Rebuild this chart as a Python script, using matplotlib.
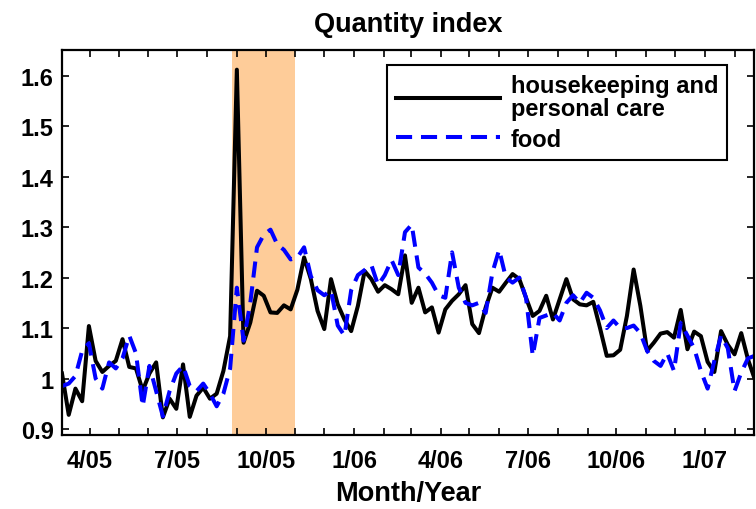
import numpy as np
import pandas as pd
import matplotlib
matplotlib.use('Agg')
import matplotlib.pyplot as plt
import matplotlib.dates as mdates
from matplotlib.ticker import FixedLocator, FuncFormatter

plt.rcParams['font.family'] = ['Liberation Sans', 'DejaVu Sans']
plt.rcParams['font.weight'] = 'bold'

weeks = pd.date_range('2005-03-03', periods=104, freq='7D')

housekeeping = [
    1.01, 0.928, 0.98, 0.955, 1.104, 1.035, 1.013, 1.025, 1.035, 1.078,
    1.023, 1.02, 0.976, 1.01, 1.032, 0.923, 0.96, 0.94, 1.028, 0.924,
    0.966, 0.982, 0.96, 0.97, 1.015, 1.084, 1.612, 1.071, 1.111, 1.174,
    1.164, 1.131, 1.13, 1.145, 1.137, 1.176, 1.24, 1.197, 1.134, 1.098,
    1.197, 1.147, 1.117, 1.094, 1.144, 1.213, 1.197, 1.172, 1.185, 1.177,
    1.167, 1.244, 1.15, 1.18, 1.131, 1.141, 1.091, 1.137, 1.154, 1.167,
    1.185, 1.108, 1.09, 1.141, 1.18, 1.172, 1.19, 1.207, 1.197, 1.16,
    1.124, 1.134, 1.164, 1.117, 1.157, 1.197, 1.157, 1.147, 1.145, 1.152,
    1.1, 1.045, 1.046, 1.057, 1.124, 1.216, 1.144, 1.055, 1.071, 1.089,
    1.092, 1.081, 1.136, 1.058, 1.093, 1.084, 1.033, 1.013, 1.094, 1.067,
    1.048, 1.09, 1.038, 0.999,
]

food = [
    0.985, 0.99, 1.005, 1.055, 1.07, 1.0, 0.98, 1.032, 1.02, 1.04,
    1.085, 1.05, 0.945, 1.025, 0.975, 0.925, 0.975, 1.01, 1.025, 0.985,
    0.975, 0.99, 0.97, 0.945, 0.97, 1.02, 1.18, 1.075, 1.15, 1.26,
    1.285, 1.295, 1.266, 1.255, 1.236, 1.24, 1.26, 1.203, 1.175, 1.165,
    1.175, 1.105, 1.085, 1.175, 1.205, 1.215, 1.225, 1.185, 1.205, 1.235,
    1.205, 1.29, 1.305, 1.22, 1.208, 1.19, 1.165, 1.16, 1.25, 1.18,
    1.15, 1.145, 1.15, 1.13, 1.21, 1.255, 1.2, 1.19, 1.2, 1.16,
    1.045, 1.12, 1.125, 1.13, 1.115, 1.15, 1.165, 1.15, 1.17, 1.16,
    1.135, 1.1, 1.115, 1.1, 1.1, 1.105, 1.09, 1.055, 1.035, 1.025,
    1.05, 1.015, 1.11, 1.085, 1.06, 1.015, 0.98, 1.035, 1.085, 1.06,
    0.975, 1.012, 1.04, 1.045,
]

shade_start = pd.Timestamp('2005-08-27')
shade_end = pd.Timestamp('2005-11-01')

y_ticks = [0.9, 1.0, 1.1, 1.2, 1.3, 1.4, 1.5, 1.6]

fig = plt.figure(figsize=(7.56, 5.10), dpi=100)
ax = fig.add_axes([0.082, 0.145, 0.915, 0.755])

ax.axvspan(shade_start, shade_end, color='#FECC99', lw=0, zorder=0)
ax.plot(weeks, housekeeping, color='black', lw=2.9, label='housekeeping and\npersonal care')
ax.plot(weeks, food, color='#0000FF', lw=2.9, dashes=(4.0, 2.2), label='food')

ax.set_xlim(pd.Timestamp('2005-03-03'), pd.Timestamp('2007-02-21'))
ax.set_ylim(0.888, 1.651)

months = pd.date_range('2005-04-01', '2007-02-01', freq='MS')
ax.xaxis.set_major_locator(FixedLocator(mdates.date2num(months)))
ax.xaxis.set_major_formatter(FuncFormatter(
    lambda v, p: (lambda d: f'{d.month}/{d.year % 100:02d}' if d.month in (1, 4, 7, 10) else '')(mdates.num2date(v))))
ax.set_yticks(y_ticks)
ax.yaxis.set_major_formatter(FuncFormatter(lambda v, p: f'{v:g}'))

ax.tick_params(direction='in', top=True, right=True, length=5, width=1.2,
               labelsize=17)
ax.tick_params(axis='x', pad=10)
ax.tick_params(axis='y', pad=6)
for s in ax.spines.values():
    s.set_linewidth(1.6)

ax.set_title('Quantity index', fontsize=19.5, fontweight='bold', pad=14)
ax.set_xlabel('Month/Year', fontsize=19.5, fontweight='bold', labelpad=6)

leg = ax.legend(loc='upper right', bbox_to_anchor=(0.962, 0.961), fontsize=17,
                fancybox=False, framealpha=1, edgecolor='black',
                handlelength=4.4, handletextpad=0.45, borderpad=0.4,
                labelspacing=0.3, borderaxespad=0)
leg.get_frame().set_linewidth(1.5)
leg.get_texts()[0].set_linespacing(1.0)

fig.savefig('out.png', dpi=100)
